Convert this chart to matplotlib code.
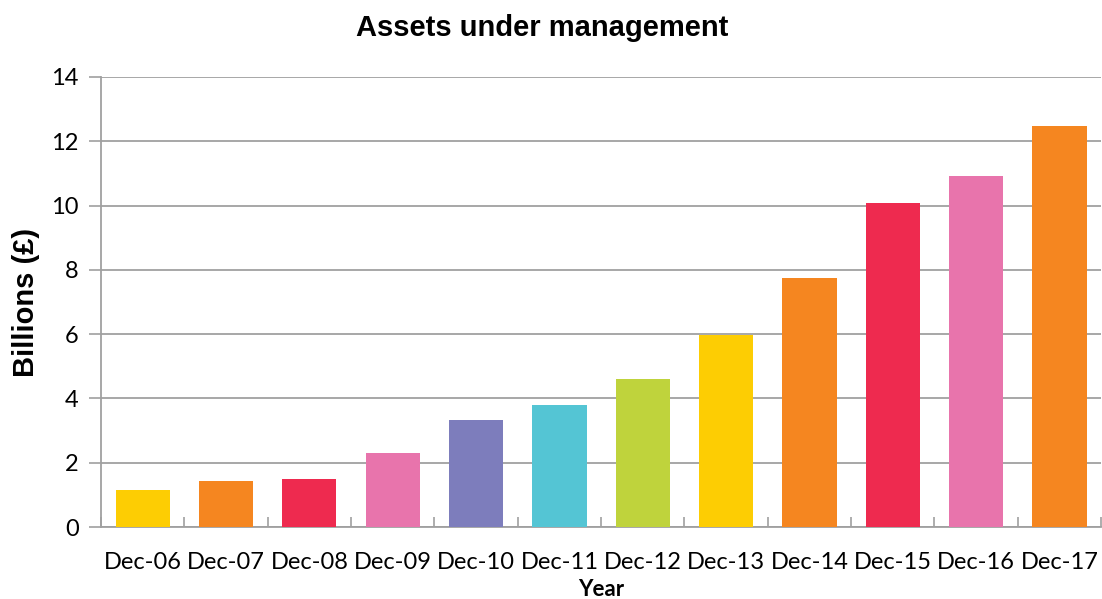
import matplotlib
matplotlib.use("Agg")
import matplotlib.pyplot as plt
import numpy as np
from matplotlib.ticker import FixedLocator

categories = ["Dec-06", "Dec-07", "Dec-08", "Dec-09", "Dec-10", "Dec-11",
              "Dec-12", "Dec-13", "Dec-14", "Dec-15", "Dec-16", "Dec-17"]
values = [1.15, 1.43, 1.49, 2.30, 3.33, 3.80, 4.60, 5.97, 7.75, 10.08, 10.93, 12.46]
colors = ["#FDCD03", "#F58620", "#EE2A4F", "#E874AC", "#7D7DBC", "#54C5D4",
          "#BFD33C", "#FDCD03", "#F58620", "#EE2A4F", "#E874AC", "#F58620"]
yticks = [0, 2, 4, 6, 8, 10, 12, 14]

fig = plt.figure(figsize=(11.02, 5.99), dpi=100)
ax = fig.add_axes([0.0917, 0.1202, 0.9075, 0.7513])

x = np.arange(len(categories))
ax.bar(x, values, width=0.65, color=colors, zorder=3)

ax.set_xlim(-0.5, len(categories) - 0.5)
ax.set_ylim(0, 14)
ax.set_yticks(yticks)
ax.set_xticks(x)
ax.set_xticklabels(categories, fontsize=17, family="Lato")
for lab in ax.get_yticklabels():
    lab.set_family("Lato")
ax.tick_params(axis="y", labelsize=17, length=9, color="#A0A0A0", width=1.2, pad=7)
ax.tick_params(axis="x", length=0, pad=18)
ax.xaxis.set_minor_locator(FixedLocator(np.arange(-0.5, len(categories), 1.0)))
ax.tick_params(axis="x", which="minor", direction="in", length=7, color="#A0A0A0", width=1.2)

ax.yaxis.grid(True, color="#A0A0A0", linewidth=1.3, zorder=0)
ax.set_axisbelow(True)
for s in ["top", "right"]:
    ax.spines[s].set_visible(False)
for s in ["left", "bottom"]:
    ax.spines[s].set_color("#A0A0A0")
    ax.spines[s].set_linewidth(1.3)

fig.text(542 / 1102, 1 - 28 / 599, "Assets under management", fontsize=21, fontweight="bold",
         family="Liberation Sans", ha="center", va="center")
ax.set_ylabel("Billions (£)", fontsize=21, fontweight="bold", family="Liberation Sans", labelpad=8)
ax.set_xlabel("Year", fontsize=16, fontweight="bold", family="Lato", labelpad=4)

fig.savefig("out.png", dpi=100)
